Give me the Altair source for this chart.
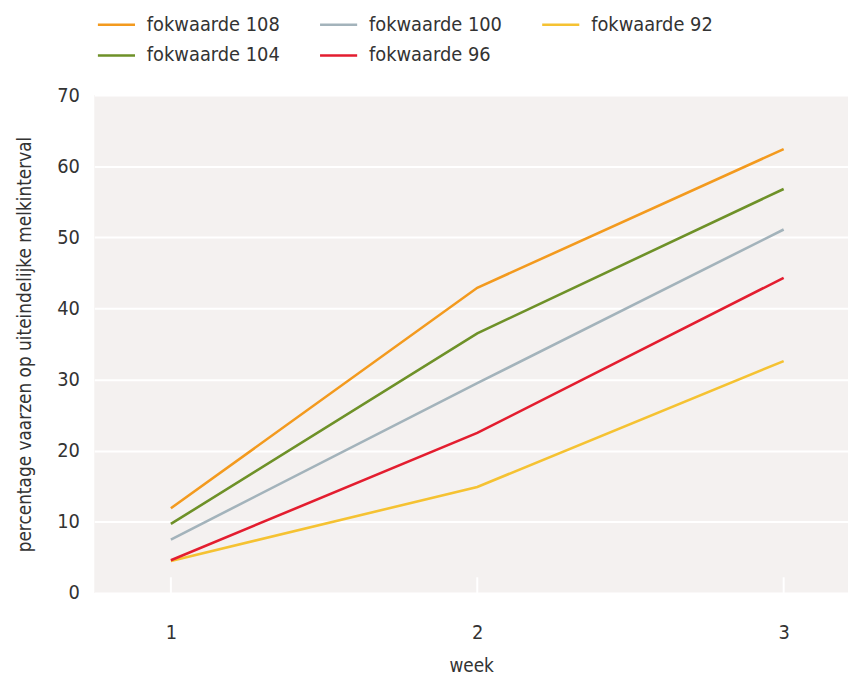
import altair as alt
import pandas as pd

weeks = [1, 2, 3]
series = ["fokwaarde 108", "fokwaarde 100", "fokwaarde 92", "fokwaarde 104", "fokwaarde 96"]
v108 = [11.9, 42.9, 62.4]
v104 = [9.7, 36.5, 56.8]
v100 = [7.5, 29.5, 51.1]
v96 = [4.6, 22.5, 44.3]
v92 = [4.5, 14.9, 32.6]
colors = ["#f39a1e", "#a3b3bb", "#f5c232", "#6e9128", "#e31d2f"]
tick_weeks = [1, 2, 3]

vals = {"fokwaarde 108": v108, "fokwaarde 104": v104, "fokwaarde 100": v100,
        "fokwaarde 96": v96, "fokwaarde 92": v92}
rows = []
for s in series:
    for w, v in zip(weeks, vals[s]):
        rows.append({"week": w, "value": v, "serie": s})
df = pd.DataFrame(rows)
ticks_df = pd.DataFrame({"week": tick_weeks, "y0": [0] * 3, "y1": [2.2] * 3})

FONT = "Liberation Sans Narrow, DejaVu Sans Condensed, sans-serif"

xscale = alt.Scale(domain=[0.75, 3.21], nice=False, zero=False)
yscale = alt.Scale(domain=[0, 70], nice=False)

lines = alt.Chart(df).mark_line(strokeWidth=2.6).encode(
    x=alt.X("week:Q", scale=xscale,
            axis=alt.Axis(values=tick_weeks, title="week", grid=False, domain=False,
                          ticks=False, labelPadding=30, titlePadding=14, format="d")),
    y=alt.Y("value:Q", scale=yscale,
            axis=alt.Axis(values=[0, 10, 20, 30, 40, 50, 60, 70],
                          title="percentage vaarzen op uiteindelijke melkinterval",
                          domain=False, ticks=False, labelPadding=15, titlePadding=22,
                          grid=True, gridColor="white", gridWidth=2)),
    color=alt.Color("serie:N", sort=series,
                    scale=alt.Scale(domain=series, range=colors),
                    legend=alt.Legend(title=None, orient="none", legendX=2, legendY=-82,
                                      columns=3, direction="horizontal", padding=0,
                                      symbolType="M-1,0H3", symbolSize=350,
                                      symbolStrokeWidth=2.6, labelOffset=29,
                                      columnPadding=34, rowPadding=10,
                                      labelFontSize=20, labelFont=FONT,
                                      labelColor="#333333")),
)

tickrules = alt.Chart(ticks_df).mark_rule(color="white", strokeWidth=2).encode(
    x=alt.X("week:Q", scale=xscale),
    y=alt.Y("y0:Q", scale=yscale),
    y2="y1:Q",
)

chart = alt.layer(tickrules, lines).properties(
    width=760, height=502,
    background="white",
    padding={"left": 8, "top": 3, "right": 0, "bottom": 5},
).configure_view(fill="#f4f1f0", stroke=None).configure_axis(
    labelFont=FONT, titleFont=FONT, labelFontSize=20, titleFontSize=19,
    labelColor="#333333", titleColor="#333333", titleFontWeight="normal",
)

chart.save("out.html", embed_options={"renderer": "svg", "actions": False})
